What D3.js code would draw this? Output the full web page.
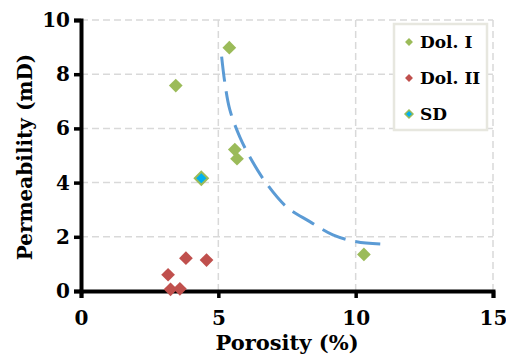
<!DOCTYPE html>
<html>
<head>
<meta charset="utf-8">
<script src="https://cdn.jsdelivr.net/npm/d3@7"></script>
<style>
  html, body { margin: 0; padding: 0; background: #fff; }
  svg { display: block; }
  text { font-family: "DejaVu Serif", "Liberation Serif", serif; font-weight: bold; fill: #000; }
</style>
</head>
<body>
<div id="chart"></div>
<script>
// values
const dol1Porosity = [5.4, 3.45, 5.6, 5.68, 10.3];
const dol1Perm = [8.98, 7.58, 5.22, 4.88, 1.35];
const dol2Porosity = [3.17, 3.82, 4.57, 3.26, 3.6];
const dol2Perm = [0.6, 1.21, 1.14, 0.06, 0.08];
const sdPorosity = [4.38];
const sdPerm = [4.16];

// dashed trend line
const trendPorosity = [5.12, 5.24, 5.42, 5.78, 6.21, 6.75, 7.48, 8.33, 9.17, 10.03, 11.12];
const trendPerm = [8.65, 7.66, 6.68, 5.69, 4.83, 3.97, 3.11, 2.56, 2.07, 1.82, 1.72];

const xTicks = [0, 5, 10, 15];
const yTicks = [0, 2, 4, 6, 8, 10];

const seriesNames = ['Dol. I', 'Dol. II', 'SD'];
const seriesFill = ['#9bbb59', '#c0504d', '#00b0f0'];
const seriesStroke = ['none', 'none', '#9bbb59'];

const width = 506, height = 356;
const margin = { top: 20, right: 13, bottom: 65, left: 81 };

const svg = d3.select('#chart').append('svg')
  .attr('width', width)
  .attr('height', height);

const x = d3.scaleLinear().domain([0, 15]).range([margin.left, width - margin.right]);
const y = d3.scaleLinear().domain([0, 10]).range([height - margin.bottom, margin.top]);

// gridlines
const grid = svg.append('g')
  .attr('stroke', '#d9d9d9')
  .attr('stroke-width', 1.5)
  .attr('stroke-dasharray', '7,4');

grid.selectAll('line.h')
  .data(yTicks.filter(d => d > 0))
  .join('line')
  .attr('class', 'h')
  .attr('x1', x(0)).attr('x2', x(15))
  .attr('y1', d => y(d)).attr('y2', d => y(d));

grid.selectAll('line.v')
  .data(xTicks.filter(d => d > 0))
  .join('line')
  .attr('class', 'v')
  .attr('x1', d => x(d)).attr('x2', d => x(d))
  .attr('y1', y(0)).attr('y2', y(10));

// axes
const xAxis = svg.append('g')
  .attr('transform', `translate(0,${y(0)})`)
  .call(d3.axisBottom(x).tickValues(xTicks).tickSize(7).tickPadding(13));
const yAxis = svg.append('g')
  .attr('transform', `translate(${x(0)},0)`)
  .call(d3.axisLeft(y).tickValues(yTicks).tickSize(7).tickPadding(4));

[xAxis, yAxis].forEach(a => {
  a.attr('font-size', 20).attr('font-family', null);
  a.select('.domain').attr('stroke', '#000').attr('stroke-width', 4);
  a.selectAll('.tick line').attr('stroke', '#000').attr('stroke-width', 3.5);
  a.selectAll('.tick text')
    .style('font-size', '20px')
    .attr('fill', '#000');
});

// trend line
const trend = trendPorosity.map((p, i) => [p, trendPerm[i]]);
svg.append('path')
  .datum(trend)
  .attr('fill', 'none')
  .attr('stroke', '#5b9bd5')
  .attr('stroke-width', 3)
  .attr('stroke-dasharray', '25,10')
  .attr('d', d3.line().x(d => x(d[0])).y(d => y(d[1])).curve(d3.curveCatmullRom));

// points
const diamond = d3.symbol().type(d3.symbolDiamond2);
const series = [
  dol1Porosity.map((p, i) => [p, dol1Perm[i]]),
  dol2Porosity.map((p, i) => [p, dol2Perm[i]]),
  sdPorosity.map((p, i) => [p, sdPerm[i]])
];

series.forEach((pts, s) => {
  svg.append('g')
    .selectAll('path')
    .data(pts)
    .join('path')
    .attr('transform', d => `translate(${x(d[0])},${y(d[1])})`)
    .attr('d', diamond.size(s === 2 ? 110 : 120)())
    .attr('fill', seriesFill[s])
    .attr('stroke', seriesStroke[s])
    .attr('stroke-width', 2);
});

// axis titles
svg.append('text')
  .attr('x', 287)
  .attr('y', 350)
  .attr('text-anchor', 'middle')
  .style('font-size', '21px')
  .text('Porosity (%)');

svg.append('text')
  .attr('transform', 'translate(32,157) rotate(-90)')
  .attr('text-anchor', 'middle')
  .style('font-size', '20px')
  .text('Permeability (mD)');

// legend
const legend = svg.append('g');
legend.append('rect')
  .attr('x', 394).attr('y', 24)
  .attr('width', 93).attr('height', 106)
  .attr('fill', '#fff')
  .attr('stroke', '#e7e7df')
  .attr('stroke-width', 2.5);

const rowY = [42, 78, 114];
seriesNames.forEach((name, i) => {
  legend.append('path')
    .attr('transform', `translate(409,${rowY[i]})`)
    .attr('d', d3.symbol().type(d3.symbolDiamond2).size(40)())
    .attr('fill', seriesFill[i])
    .attr('stroke', seriesStroke[i])
    .attr('stroke-width', 1.5);
  legend.append('text')
    .attr('x', 420)
    .attr('y', rowY[i])
    .attr('dy', '0.35em')
    .style('font-size', '17px')
    .text(name);
});
</script>
</body>
</html>
